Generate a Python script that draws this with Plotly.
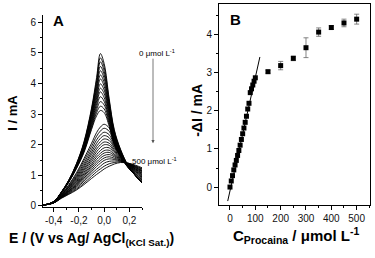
import plotly.graph_objects as go

# ---------------- Panel A: voltammograms ----------------
E_V = [-0.48, -0.40, -0.34, -0.28, -0.22, -0.16, -0.10, -0.06, -0.03, 0.00, 0.04, 0.08, 0.13, 0.19, 0.25, 0.30]

i_00 = [0.03, 0.14, 0.45, 0.85, 1.38, 2.10, 3.20, 4.20, 4.98, 4.65, 3.50, 2.50, 1.85, 1.32, 0.98, 0.75]
i_01 = [0.03, 0.14, 0.45, 0.84, 1.37, 2.07, 3.15, 4.10, 4.84, 4.53, 3.43, 2.46, 1.83, 1.31, 0.98, 0.75]
i_02 = [0.03, 0.14, 0.45, 0.84, 1.35, 2.05, 3.09, 4.01, 4.71, 4.40, 3.36, 2.42, 1.81, 1.31, 0.98, 0.76]
i_03 = [0.03, 0.14, 0.44, 0.83, 1.34, 2.02, 3.04, 3.91, 4.56, 4.28, 3.29, 2.38, 1.79, 1.30, 0.98, 0.76]
i_04 = [0.03, 0.14, 0.44, 0.83, 1.33, 1.99, 2.98, 3.82, 4.42, 4.16, 3.22, 2.35, 1.77, 1.30, 0.99, 0.77]
i_05 = [0.03, 0.14, 0.44, 0.82, 1.32, 1.97, 2.93, 3.72, 4.28, 4.03, 3.15, 2.31, 1.75, 1.29, 0.99, 0.77]
i_06 = [0.03, 0.14, 0.44, 0.82, 1.31, 1.94, 2.88, 3.62, 4.15, 3.91, 3.08, 2.27, 1.73, 1.29, 0.99, 0.77]
i_07 = [0.03, 0.13, 0.43, 0.81, 1.29, 1.91, 2.82, 3.53, 3.99, 3.79, 3.02, 2.23, 1.72, 1.28, 0.99, 0.78]
i_08 = [0.03, 0.13, 0.43, 0.81, 1.28, 1.88, 2.77, 3.43, 3.85, 3.67, 2.95, 2.19, 1.70, 1.28, 0.99, 0.78]
i_09 = [0.03, 0.13, 0.43, 0.80, 1.27, 1.86, 2.72, 3.34, 3.73, 3.54, 2.88, 2.15, 1.68, 1.27, 0.99, 0.78]
i_10 = [0.03, 0.13, 0.43, 0.80, 1.26, 1.83, 2.66, 3.24, 3.57, 3.42, 2.81, 2.12, 1.66, 1.27, 1.00, 0.79]
i_11 = [0.03, 0.13, 0.42, 0.79, 1.25, 1.80, 2.61, 3.14, 3.41, 3.30, 2.74, 2.08, 1.64, 1.26, 1.00, 0.79]
i_12 = [0.03, 0.13, 0.42, 0.79, 1.23, 1.78, 2.55, 3.05, 3.26, 3.17, 2.67, 2.04, 1.62, 1.26, 1.00, 0.80]
i_13 = [0.03, 0.13, 0.42, 0.78, 1.22, 1.75, 2.50, 2.95, 3.12, 3.05, 2.60, 2.00, 1.60, 1.25, 1.00, 0.80]
i_14 = [0.03, 0.12, 0.38, 0.70, 1.08, 1.55, 2.05, 2.40, 2.58, 2.67, 2.55, 2.15, 1.70, 1.32, 1.05, 0.85]
i_15 = [0.03, 0.12, 0.37, 0.67, 1.03, 1.48, 1.95, 2.28, 2.45, 2.54, 2.44, 2.08, 1.68, 1.33, 1.07, 0.88]
i_16 = [0.03, 0.12, 0.36, 0.64, 0.98, 1.40, 1.85, 2.16, 2.32, 2.41, 2.33, 2.01, 1.65, 1.33, 1.10, 0.92]
i_17 = [0.03, 0.11, 0.35, 0.62, 0.94, 1.33, 1.76, 2.05, 2.21, 2.30, 2.23, 1.95, 1.63, 1.34, 1.12, 0.95]
i_18 = [0.03, 0.11, 0.34, 0.60, 0.90, 1.27, 1.68, 1.95, 2.10, 2.19, 2.14, 1.90, 1.61, 1.35, 1.14, 0.98]
i_19 = [0.03, 0.11, 0.33, 0.57, 0.86, 1.21, 1.59, 1.86, 2.00, 2.09, 2.05, 1.84, 1.59, 1.35, 1.16, 1.01]
i_20 = [0.03, 0.11, 0.32, 0.55, 0.82, 1.16, 1.52, 1.77, 1.91, 2.00, 1.98, 1.79, 1.57, 1.36, 1.18, 1.03]
i_21 = [0.03, 0.11, 0.31, 0.53, 0.79, 1.10, 1.45, 1.68, 1.81, 1.90, 1.90, 1.74, 1.55, 1.36, 1.20, 1.06]
i_22 = [0.03, 0.11, 0.30, 0.51, 0.75, 1.05, 1.37, 1.60, 1.72, 1.81, 1.82, 1.69, 1.54, 1.37, 1.21, 1.08]
i_23 = [0.03, 0.11, 0.30, 0.49, 0.72, 1.00, 1.31, 1.52, 1.64, 1.73, 1.75, 1.65, 1.52, 1.37, 1.23, 1.11]
i_24 = [0.03, 0.11, 0.29, 0.48, 0.69, 0.96, 1.25, 1.44, 1.56, 1.65, 1.68, 1.61, 1.50, 1.38, 1.25, 1.13]
i_25 = [0.03, 0.10, 0.28, 0.46, 0.66, 0.91, 1.18, 1.37, 1.48, 1.57, 1.61, 1.56, 1.49, 1.38, 1.26, 1.15]
i_26 = [0.03, 0.10, 0.27, 0.44, 0.63, 0.86, 1.12, 1.29, 1.40, 1.49, 1.54, 1.52, 1.47, 1.38, 1.28, 1.17]
i_27 = [0.03, 0.10, 0.27, 0.42, 0.59, 0.81, 1.05, 1.20, 1.30, 1.40, 1.46, 1.47, 1.46, 1.39, 1.29, 1.20]
i_28 = [0.03, 0.10, 0.26, 0.40, 0.55, 0.75, 0.97, 1.12, 1.21, 1.30, 1.38, 1.42, 1.44, 1.40, 1.31, 1.22]
i_29 = [0.03, 0.10, 0.25, 0.38, 0.52, 0.70, 0.90, 1.03, 1.12, 1.21, 1.30, 1.37, 1.42, 1.40, 1.33, 1.25]

voltammograms = [i_00, i_01, i_02, i_03, i_04, i_05, i_06, i_07, i_08, i_09,
                 i_10, i_11, i_12, i_13, i_14, i_15, i_16, i_17, i_18, i_19,
                 i_20, i_21, i_22, i_23, i_24, i_25, i_26, i_27, i_28, i_29]

A_xtick_vals = [-0.4, -0.2, 0.0, 0.2]
A_xtick_text = ["-0,4", "-0,2", "0,0", "0,2"]
A_ytick_vals = [0, 1, 2, 3, 4, 5, 6]

# ---------------- Panel B: calibration ----------------
conc_lin = [0, 5, 10, 15, 20, 25, 30, 35, 40, 45, 50, 55, 60, 65, 70, 75, 80, 85, 90, 95, 100]
dI_lin = [0.00, 0.16, 0.30, 0.45, 0.58, 0.70, 0.83, 0.96, 1.10, 1.25, 1.40, 1.55, 1.70, 1.86,
          2.05, 2.20, 2.48, 2.58, 2.68, 2.78, 2.87]
conc_high = [150, 200, 250, 300, 350, 400, 450, 500]
dI_high = [3.03, 3.19, 3.38, 3.66, 4.07, 4.19, 4.31, 4.41]
err_high = [0.04, 0.11, 0.06, 0.26, 0.11, 0.05, 0.10, 0.13]
fit_slope = 0.0298
fit_intercept = -0.10
fit_x = [-9, 118]
B_xtick_vals = [0, 100, 200, 300, 400, 500]
B_ytick_vals = [0, 1, 2, 3, 4]

W, H = 375, 258
def px(x): return x / W
def py(y): return 1 - y / H

FONT = "Liberation Sans, Arial, sans-serif"
fig = go.Figure()

for cur in voltammograms:
    fig.add_trace(go.Scatter(x=E_V, y=cur, mode="lines",
                             line=dict(color="black", width=0.9, shape="spline", smoothing=1.0),
                             xaxis="x", yaxis="y", showlegend=False, hoverinfo="skip"))

fig.add_trace(go.Scatter(x=fit_x, y=[fit_slope * v + fit_intercept for v in fit_x], mode="lines",
                         line=dict(color="black", width=1), xaxis="x2", yaxis="y2", showlegend=False))
fig.add_trace(go.Scatter(x=conc_lin, y=dI_lin, mode="markers",
                         marker=dict(symbol="square", size=5, color="black"),
                         xaxis="x2", yaxis="y2", showlegend=False))
fig.add_trace(go.Scatter(x=conc_high, y=dI_high, mode="markers",
                         marker=dict(symbol="square", size=5, color="black"),
                         error_y=dict(type="data", array=err_high, color="#666", thickness=0.8, width=2.5),
                         xaxis="x2", yaxis="y2", showlegend=False))

tickfont = dict(family=FONT, size=10, color="#111")
common = dict(showline=True, linecolor="black", linewidth=1, ticks="outside", ticklen=4,
              tickwidth=1, tickcolor="black", showgrid=False, zeroline=False, tickfont=tickfont)

fig.update_layout(
    width=W, height=H, margin=dict(l=0, r=0, t=0, b=0),
    paper_bgcolor="white", plot_bgcolor="white",
    xaxis=dict(domain=[px(43), px(142)], range=[-0.485, 0.30], tickvals=A_xtick_vals,
               ticktext=A_xtick_text, anchor="y",
               minor=dict(ticks="outside", ticklen=2, tickcolor="black", dtick=0.1, tick0=0),
               **common),
    yaxis=dict(domain=[py(211), py(15)], range=[-0.03, 6.25], tickvals=A_ytick_vals, anchor="x",
               minor=dict(ticks="outside", ticklen=2, tickcolor="black", dtick=0.5, tick0=0),
               **common),
    xaxis2=dict(domain=[px(219), px(370)], range=[-43.4, 552.7], tickvals=B_xtick_vals,
                anchor="y2", mirror=True,
                minor=dict(ticks="outside", ticklen=2, tickcolor="black", dtick=50, tick0=0),
                **common),
    yaxis2=dict(domain=[py(209), py(4)], range=[-0.47, 4.81], tickvals=B_ytick_vals,
                anchor="x2", mirror=True,
                minor=dict(ticks="outside", ticklen=2, tickcolor="black", dtick=0.5, tick0=0),
                **common),
)

ann = []
def label(text, x, y, size, bold=True, angle=0, xanchor="center"):
    t = f"<b>{text}</b>" if bold else text
    ann.append(dict(text=t, x=px(x), y=py(y), xref="paper", yref="paper", showarrow=False,
                    textangle=angle, xanchor=xanchor, yanchor="middle",
                    font=dict(family=FONT, size=size, color="black")))

label("A", 58, 21, 15)
label("B", 235, 20, 15)
label("I / mA", 13, 115, 13, angle=-90)
label("E / (V vs Ag/ AgCl<sub>(KCl Sat.)</sub>)", 91, 244, 14)
label("-ΔI / mA", 197, 113, 14, angle=-90)
label("C<sub>Procaina</sub> / μmol L<sup>-1</sup>", 296, 240, 15)
label("0 μmol L<sup>-1</sup>", 157, 54, 8, bold=False)
label("500 μmol L<sup>-1</sup>", 154, 164, 8, bold=False)
ann.append(dict(text="", x=px(153), y=py(146), xref="paper", yref="paper",
                showarrow=True, ax=0, ay=-86, arrowhead=2, arrowsize=0.8,
                arrowwidth=0.8, arrowcolor="#555"))
fig.update_layout(annotations=ann)

fig.write_html("out.html", config={"displayModeBar": False},
               post_script="document.body.style.margin='0px';")
